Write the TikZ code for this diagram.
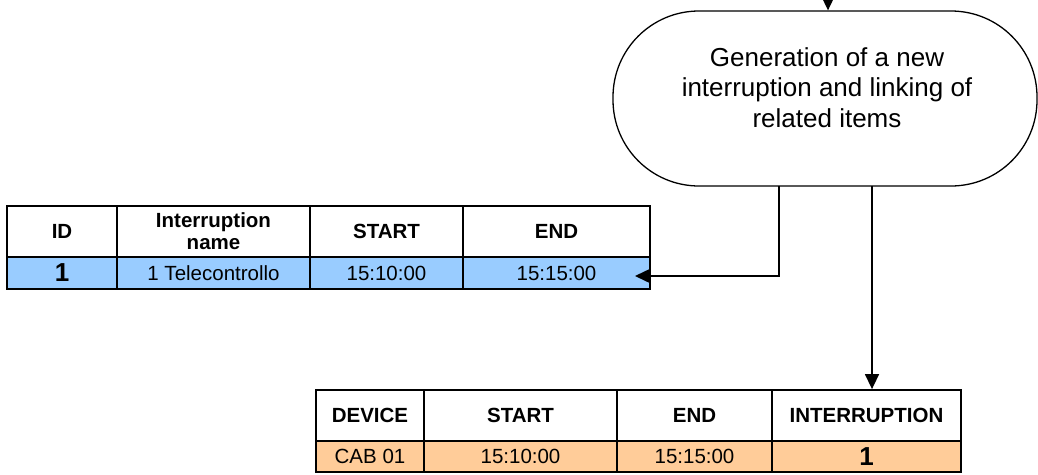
\documentclass[tikz,border=0pt]{standalone}
\usepackage{fontspec}
\setmainfont{Liberation Sans}
\usetikzlibrary{arrows.meta}
\definecolor{rowblue}{HTML}{99CCFF}
\definecolor{roworange}{HTML}{FFCC99}
\tikzset{
  cell/.style={draw=black, line width=1.8pt, inner sep=0pt, anchor=center, align=center,
    font=\fontsize{20.5}{22}\selectfont},
  hdr/.style={cell, fill=white, font=\fontsize{20.5}{22}\selectfont\bfseries},
  bigone/.style={font=\fontsize{26}{26}\selectfont\bfseries},
  term/.style={draw=black, line width=1.3pt, rounded corners=86pt, fill=white, inner sep=0pt},
  conn/.style={draw=black, line width=1.5pt, -{Triangle[length=15pt,width=14pt]}},
}
\begin{document}
\begin{tikzpicture}[x=1pt,y=-1pt]
\useasboundingbox (0,0) rectangle (1038,474);
% terminator
\node[term, minimum width=424pt, minimum height=175pt] (term) at (825,98.5) {};
\node[align=center, inner sep=0pt, font=\fontsize{26}{30.5}\selectfont] (termtext) at (827,87.5)
  {Generation of a new\\interruption and linking of\\related items};
% top table
\node[hdr, minimum width=110pt, minimum height=51pt] (a1) at (62,231.5) {ID};
\node[hdr, minimum width=193pt, minimum height=51pt] (b1) at (213.5,231.5) {Interruption\\name};
\node[hdr, minimum width=153pt, minimum height=51pt] (c1) at (386.5,231.5) {START};
\node[hdr, minimum width=187pt, minimum height=51pt] (d1) at (556.5,231.5) {END};
\node[cell, fill=rowblue, minimum width=110pt, minimum height=32pt, bigone] (a2) at (62,273) {1};
\node[cell, fill=rowblue, minimum width=193pt, minimum height=32pt] (b2) at (213.5,273) {1 Telecontrollo};
\node[cell, fill=rowblue, minimum width=153pt, minimum height=32pt] (c2) at (386.5,273) {15:10:00};
\node[cell, fill=rowblue, minimum width=187pt, minimum height=32pt] (d2) at (556.5,273) {15:15:00};
% bottom table
\node[hdr, minimum width=108pt, minimum height=51pt] (p1) at (370,415.5) {DEVICE};
\node[hdr, minimum width=193pt, minimum height=51pt] (q1) at (520.5,415.5) {START};
\node[hdr, minimum width=155pt, minimum height=51pt] (r1) at (694.5,415.5) {END};
\node[hdr, minimum width=189pt, minimum height=51pt] (s1) at (866.5,415.5) {INTERRUPTION};
\node[cell, fill=roworange, minimum width=108pt, minimum height=31pt] (p2) at (370,456.5) {CAB 01};
\node[cell, fill=roworange, minimum width=193pt, minimum height=31pt] (q2) at (520.5,456.5) {15:10:00};
\node[cell, fill=roworange, minimum width=155pt, minimum height=31pt] (r2) at (694.5,456.5) {15:15:00};
\node[cell, fill=roworange, minimum width=189pt, minimum height=31pt, bigone] (s2) at (866.5,456.5) {1};
% connectors
\coordinate (topin) at (828,0);
\draw[conn] (topin) -- (topin |- term.north);
\coordinate (tapA) at (779,186);
\coordinate (tipA) at (635,276);
\draw[conn] (tapA) |- (tipA);
\coordinate (tapB) at (872,186);
\draw[conn] (tapB) -- (tapB |- s1.north);
\end{tikzpicture}
\end{document}
